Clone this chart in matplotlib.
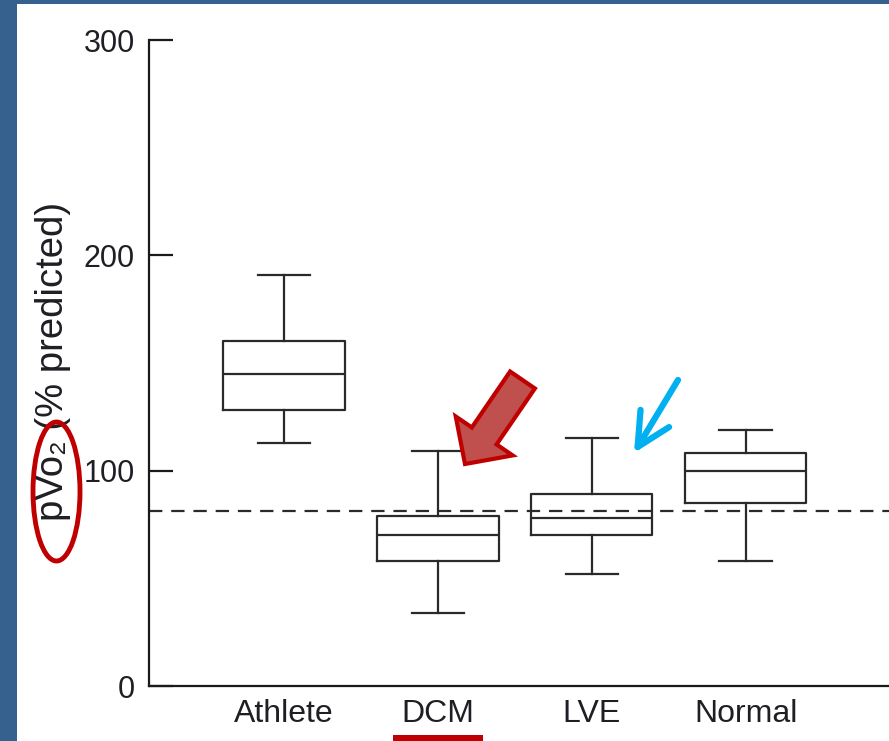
import matplotlib
matplotlib.use("Agg")
import matplotlib.pyplot as plt
from matplotlib.patches import Rectangle, Ellipse, FancyArrow
from matplotlib.transforms import Affine2D

# valores (pVO2 % predicho)
groups = ["Athlete", "DCM", "LVE", "Normal"]
whis_lo = [113, 34, 52, 58]
q1 = [128, 58, 70, 85]
medians = [145, 70, 78, 100]
q3 = [160, 79, 89, 108]
whis_hi = [191, 109, 115, 119]
ref_line = 81.5
yticks = [0, 100, 200, 300]

plt.rcParams["font.family"] = ["Liberation Sans", "DejaVu Sans"]

W, H = 889, 741
fig = plt.figure(figsize=(W / 100, H / 100), dpi=100)
ax = fig.add_axes([149 / W, 55 / H, (W - 149) / W, (686 - 40) / H])

# coordenadas en píxeles (origen arriba a la izquierda) para las anotaciones
pix = Affine2D().scale(1 / 100, -1 / 100).translate(0, H / 100) + fig.dpi_scale_trans

stats = []
for i in range(len(groups)):
    stats.append(dict(label=groups[i], whislo=whis_lo[i], q1=q1[i], med=medians[i],
                      q3=q3[i], whishi=whis_hi[i], fliers=[]))

line_kw = dict(color="#2a2a2a", linewidth=1.6)
ax.bxp(stats, positions=range(1, len(groups) + 1), widths=0.79, capwidths=0.34,
       showfliers=False, boxprops=line_kw, medianprops=line_kw,
       whiskerprops=line_kw, capprops=line_kw)

ax.axhline(ref_line, color="#2a2a2a", linewidth=1.6, linestyle=(0, (6, 4)))

ax.set_xlim(0.1235, 4.932)
ax.set_ylim(0, 300)
ax.set_yticks(yticks)
ax.spines["top"].set_visible(False)
ax.spines["right"].set_visible(False)
for s in ("left", "bottom"):
    ax.spines[s].set_linewidth(1.6)
    ax.spines[s].set_color("#1a1a1a")
ax.tick_params(axis="y", direction="in", length=17, width=1.6, pad=10,
               labelsize=22, labelcolor="#1e1e24", color="#1a1a1a")
ax.tick_params(axis="x", length=0, pad=9, labelsize=23, labelcolor="#1e1e24")
ax.set_ylabel("pVo\u2082 (% predicted)", fontsize=27.5, color="#1e1e24",
              va="center")
ax.yaxis.set_label_coords(53 / W, (H - 361) / H, transform=fig.transFigure)

# borde azul de la diapositiva
blue = "#36618F"
fig.add_artist(Rectangle((0, 0), 17, H, transform=pix, color=blue, lw=0))
fig.add_artist(Rectangle((0, 0), W, 4, transform=pix, color=blue, lw=0))

# marcas rojas y azules
fig.add_artist(Ellipse((56.5, 491.5), 47, 139, transform=pix, fill=False,
                       edgecolor="#C00000", linewidth=3.5))
fig.add_artist(Rectangle((393, 735), 90, 6, transform=pix, color="#C00000", lw=0))
fig.add_artist(FancyArrow(522.5, 380, -57.5, 84, width=30, head_width=69,
                          head_length=34, length_includes_head=True, transform=pix,
                          facecolor="#C0504D", edgecolor="#C00000", linewidth=3))
ax.annotate("", xy=(634, 453), xytext=(678, 380), xycoords=pix, textcoords=pix,
            arrowprops=dict(arrowstyle="->,head_length=1.2,head_width=0.6",
                            mutation_scale=20, lw=4.5, color="#00B0F0",
                            shrinkA=0, shrinkB=0, capstyle="round",
                            joinstyle="round"))

fig.savefig("out.png", dpi=100)
